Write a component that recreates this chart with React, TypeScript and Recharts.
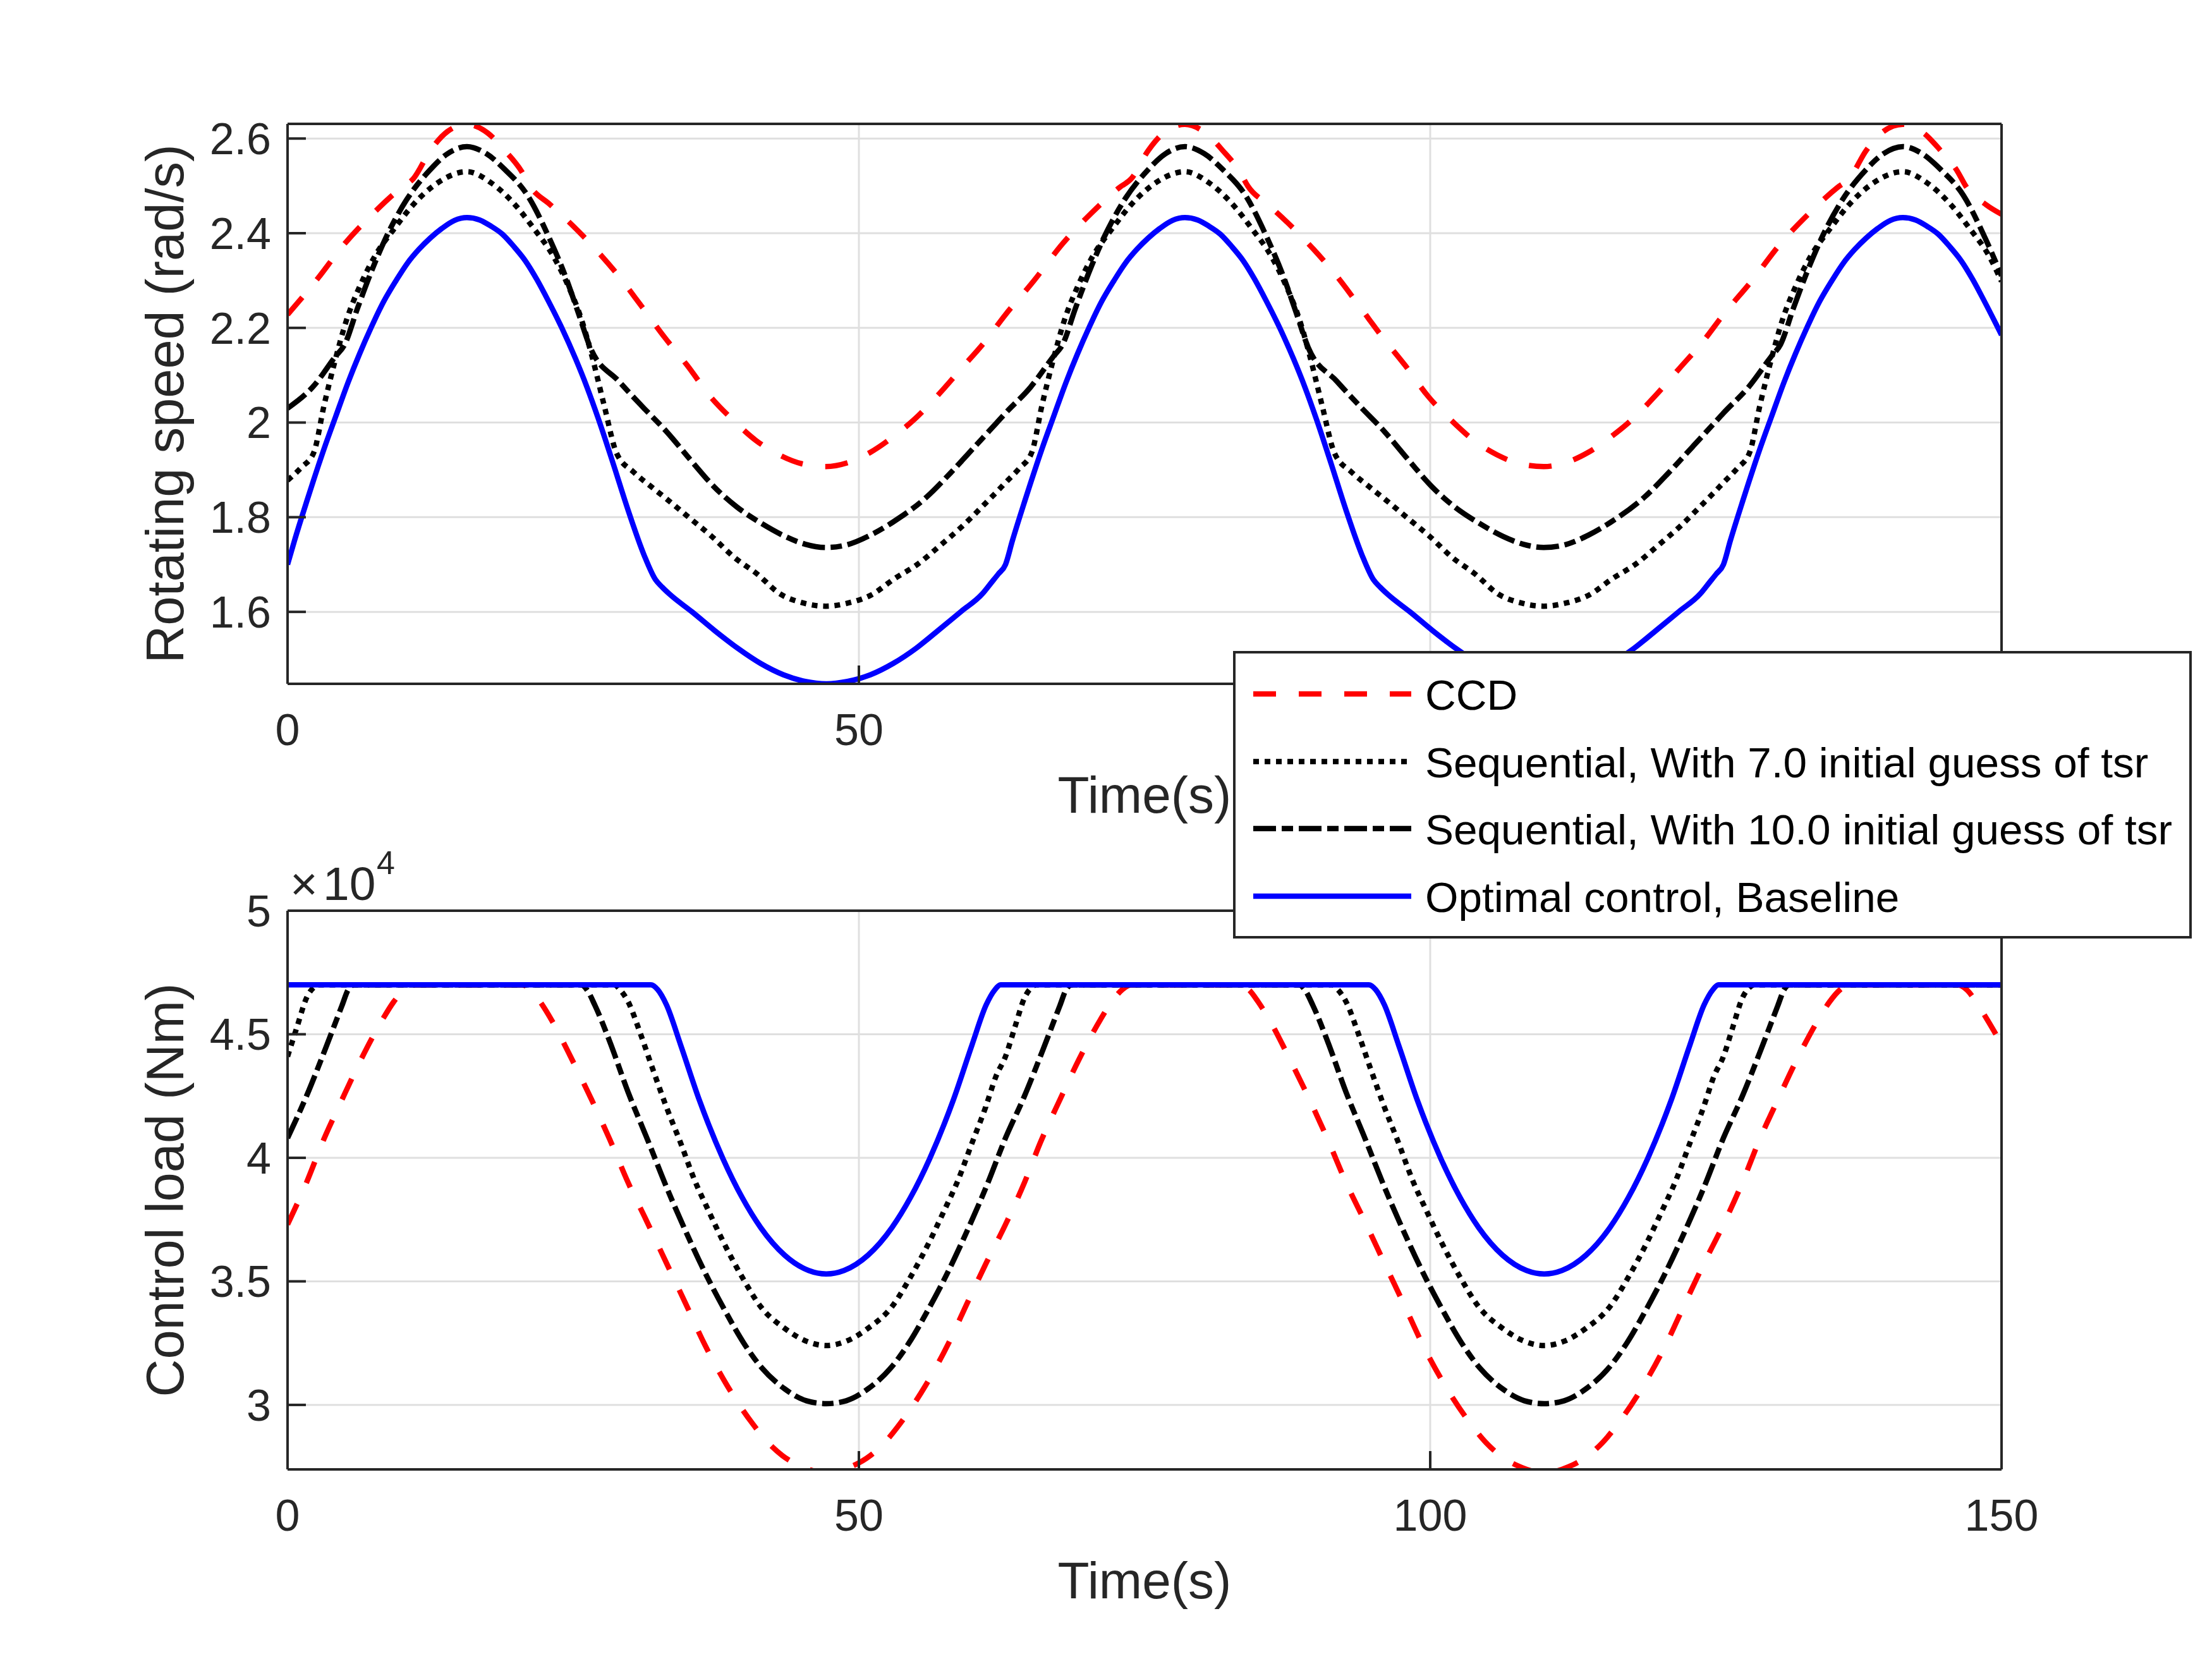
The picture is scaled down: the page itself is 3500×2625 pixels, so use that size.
import React from 'react';
import { LineChart, Line, XAxis, YAxis, CartesianGrid, Legend, Label } from 'recharts';

// ---------- axis ticks / domains ----------
const timeTicks = [0, 50, 100, 150];
const speedTicks = [1.6, 1.8, 2.0, 2.2, 2.4, 2.6];
const loadTicks = [3, 3.5, 4, 4.5, 5];
const speedDomain = [1.448, 2.631];
const loadDomain = [2.739, 5];

const seriesNames = [
  'CCD',
  'Sequential, With 7.0 initial guess of tsr',
  'Sequential, With 10.0 initial guess of tsr',
  'Optimal control, Baseline',
];

// ---------- Rotating speed (rad/s) : [time, value] ----------
const ccdSpeed = [
  [0, 2.228], [2.5, 2.3], [5, 2.378], [7.5, 2.442], [10, 2.497], [11, 2.515], [12.5, 2.575], [14, 2.615], [15.7, 2.63], [17.5, 2.612], [19, 2.575], [20.5, 2.53], [21.2, 2.5], [23, 2.46], [25, 2.415], [27, 2.365], [29, 2.309], [31, 2.245], [33, 2.18], [35, 2.12], [37, 2.055], [39, 2.005], [41, 1.962], [43, 1.932], [45, 1.913], [47.1, 1.907], [49, 1.915], [51, 1.937], [53, 1.97], [55, 2.01], [57, 2.06], [59, 2.115], [61, 2.17],
  [62.83, 2.228], [65.33, 2.3], [67.83, 2.378], [70.33, 2.442], [72.83, 2.497], [73.83, 2.515], [75.33, 2.575], [76.83, 2.615], [78.53, 2.63], [80.33, 2.612], [81.83, 2.575], [83.33, 2.53], [84.03, 2.5], [85.83, 2.46], [87.83, 2.415], [89.83, 2.365], [91.83, 2.309], [93.83, 2.245], [95.83, 2.18], [97.83, 2.12], [99.83, 2.055], [101.83, 2.005], [103.83, 1.962], [105.83, 1.932], [107.83, 1.913], [109.93, 1.907], [111.83, 1.915], [113.83, 1.937], [115.83, 1.97], [117.83, 2.01], [119.83, 2.06], [121.83, 2.115], [123.83, 2.17],
  [125.66, 2.228], [128.16, 2.3], [130.66, 2.378], [133.16, 2.442], [135.66, 2.497], [136.66, 2.515], [138.16, 2.575], [139.66, 2.615], [141.36, 2.63], [143.16, 2.612], [144.66, 2.575], [146.16, 2.53], [146.86, 2.5], [148.66, 2.46], [150, 2.44],
];

const s7Speed = [
  [0, 1.878], [1.2, 1.905], [2.3, 1.937], [3.2, 2.037], [4.15, 2.13], [5.14, 2.215], [6.4, 2.292], [7.63, 2.351], [9.35, 2.41], [11.06, 2.462], [13.05, 2.505], [15.7, 2.53], [17.9, 2.505], [19.84, 2.462], [21.55, 2.41], [23.27, 2.351], [24.5, 2.292], [25.76, 2.215], [26.75, 2.13], [27.7, 2.037], [28.8, 1.935], [30.3, 1.895], [31.8, 1.865], [33.1, 1.84], [35.1, 1.8], [37.1, 1.76], [39.1, 1.715], [41.1, 1.68], [43.1, 1.638], [45.1, 1.619], [47.1, 1.612], [49.1, 1.619], [51.1, 1.636], [53.1, 1.67], [55.1, 1.7], [57.1, 1.74], [59.1, 1.782], [61.1, 1.83], [62, 1.852],
  [62.83, 1.873], [64.03, 1.903], [65.13, 1.937], [66.03, 2.037], [66.98, 2.13], [67.97, 2.215], [69.23, 2.292], [70.46, 2.351], [72.18, 2.41], [73.89, 2.462], [75.88, 2.505], [78.53, 2.53], [80.73, 2.505], [82.67, 2.462], [84.38, 2.41], [86.1, 2.351], [87.33, 2.292], [88.59, 2.215], [89.58, 2.13], [90.53, 2.037], [91.63, 1.935], [93.13, 1.895], [94.63, 1.865], [95.93, 1.84], [97.93, 1.8], [99.93, 1.76], [101.93, 1.715], [103.93, 1.68], [105.93, 1.638], [107.93, 1.619], [109.93, 1.612], [111.93, 1.619], [113.93, 1.636], [115.93, 1.67], [117.93, 1.7], [119.93, 1.74], [121.93, 1.782], [123.93, 1.83], [124.83, 1.852],
  [125.66, 1.873], [126.86, 1.903], [127.96, 1.937], [128.86, 2.037], [129.81, 2.13], [130.8, 2.215], [132.06, 2.292], [133.29, 2.351], [135.01, 2.41], [136.72, 2.462], [138.71, 2.505], [141.36, 2.53], [143.56, 2.505], [145.5, 2.462], [147.21, 2.41], [148.93, 2.351], [150, 2.298],
];

const s10Speed = [
  [0, 2.03], [2.2, 2.075], [4.2, 2.14], [5, 2.165], [6.1, 2.24], [7.3, 2.317], [8.5, 2.385], [10.4, 2.47], [12.4, 2.532], [14, 2.568], [15.7, 2.583], [17.4, 2.568], [19, 2.535], [21, 2.48], [22.9, 2.39], [24.3, 2.31], [25.4, 2.235], [26.5, 2.158], [29, 2.087], [31, 2.035], [33.2, 1.98], [35.3, 1.92], [37.3, 1.865], [39.3, 1.822], [41.4, 1.788], [43.5, 1.76], [45.3, 1.743], [47.1, 1.736], [49, 1.742], [51, 1.762], [53, 1.79], [55.9, 1.842], [58, 1.893], [60.1, 1.948], [62, 1.998],
  [62.83, 2.02], [65.03, 2.075], [67.03, 2.14], [67.83, 2.165], [68.93, 2.24], [70.13, 2.317], [71.33, 2.385], [73.23, 2.47], [75.23, 2.532], [76.83, 2.568], [78.53, 2.583], [80.23, 2.568], [81.83, 2.535], [83.83, 2.48], [85.73, 2.39], [87.13, 2.31], [88.23, 2.235], [89.33, 2.158], [91.83, 2.087], [93.83, 2.035], [96.03, 1.98], [98.13, 1.92], [100.13, 1.865], [102.13, 1.822], [104.23, 1.788], [106.33, 1.76], [108.13, 1.743], [109.93, 1.736], [111.83, 1.742], [113.83, 1.762], [115.83, 1.79], [118.73, 1.842], [120.83, 1.893], [122.93, 1.948], [124.83, 1.998],
  [125.66, 2.02], [127.86, 2.075], [129.86, 2.14], [130.66, 2.165], [131.76, 2.24], [132.96, 2.317], [134.16, 2.385], [136.06, 2.47], [138.06, 2.532], [139.66, 2.568], [141.36, 2.583], [143.06, 2.568], [144.66, 2.535], [146.66, 2.48], [148.56, 2.39], [150, 2.31],
];

const optSpeed = [
  [0, 1.7], [0.6, 1.75], [1.7, 1.835], [3.2, 1.945], [4.2, 2.012], [5.3, 2.085], [6.3, 2.145], [7.3, 2.2], [8.4, 2.255], [9.5, 2.3], [10.5, 2.337], [11.5, 2.366], [12.5, 2.39], [13.5, 2.41], [14.6, 2.427], [15.7, 2.433], [16.8, 2.428], [17.8, 2.415], [18.8, 2.398], [19.8, 2.372], [20.8, 2.342], [21.8, 2.303], [22.8, 2.258], [24, 2.2], [25.2, 2.135], [26.2, 2.075], [27.2, 2.008], [28.5, 1.913], [29.8, 1.815], [31.2, 1.72], [32.2, 1.668], [32.8, 1.652], [33.5, 1.636], [35.4, 1.6], [37.4, 1.56], [39.4, 1.523], [41.4, 1.491], [43.4, 1.467], [45.3, 1.453], [47.15, 1.448], [49, 1.453], [51, 1.467], [53, 1.491], [55, 1.523], [56.9, 1.56], [58.9, 1.6], [60.8, 1.638], [61.6, 1.662], [62.2, 1.68],
  [62.83, 1.7], [63.43, 1.75], [64.53, 1.835], [66.03, 1.945], [67.03, 2.012], [68.13, 2.085], [69.13, 2.145], [70.13, 2.2], [71.23, 2.255], [72.33, 2.3], [73.33, 2.337], [74.33, 2.366], [75.33, 2.39], [76.33, 2.41], [77.43, 2.427], [78.53, 2.433], [79.63, 2.428], [80.63, 2.415], [81.63, 2.398], [82.63, 2.372], [83.63, 2.342], [84.63, 2.303], [85.63, 2.258], [86.83, 2.2], [88.03, 2.135], [89.03, 2.075], [90.03, 2.008], [91.33, 1.913], [92.63, 1.815], [94.03, 1.72], [95.03, 1.668], [95.63, 1.652], [96.33, 1.636], [98.23, 1.6], [100.23, 1.56], [102.23, 1.523], [104.23, 1.491], [106.23, 1.467], [108.13, 1.453], [109.98, 1.448], [111.83, 1.453], [113.83, 1.467], [115.83, 1.491], [117.83, 1.523], [119.73, 1.56], [121.73, 1.6], [123.63, 1.638], [124.43, 1.662], [125.03, 1.68],
  [125.66, 1.7], [126.26, 1.75], [127.36, 1.835], [128.86, 1.945], [129.86, 2.012], [130.96, 2.085], [131.96, 2.145], [132.96, 2.2], [134.06, 2.255], [135.16, 2.3], [136.16, 2.337], [137.16, 2.366], [138.16, 2.39], [139.16, 2.41], [140.26, 2.427], [141.36, 2.433], [142.46, 2.428], [143.46, 2.415], [144.46, 2.398], [145.46, 2.372], [146.46, 2.342], [147.46, 2.303], [148.46, 2.258], [150, 2.185],
];

// ---------- Control load (x10^4 Nm) : [time, value] ----------
const ccdLoad = [
  [0, 3.73], [1.66, 3.9], [3.1, 4.067], [4.77, 4.236], [6.42, 4.397], [8.29, 4.558], [9.3, 4.632], [10.2, 4.68], [11, 4.7], [20.5, 4.7], [21.3, 4.68], [22.1, 4.632], [23.1, 4.558], [24.9, 4.397], [26.6, 4.236], [28.2, 4.074], [29.8, 3.9], [31.5, 3.737], [33.15, 3.575], [34.8, 3.414], [36.5, 3.245], [38.5, 3.076], [40.6, 2.93], [42, 2.85], [43.3, 2.795], [45, 2.75], [47.15, 2.725], [49.3, 2.75], [51, 2.795], [52.3, 2.85], [53.7, 2.93], [55.8, 3.076], [57.8, 3.245], [59.5, 3.414], [61.15, 3.575],
  [62.83, 3.73], [64.49, 3.9], [65.93, 4.067], [67.6, 4.236], [69.25, 4.397], [71.12, 4.558], [72.13, 4.632], [73.03, 4.68], [73.83, 4.7], [83.33, 4.7], [84.13, 4.68], [84.93, 4.632], [85.93, 4.558], [87.73, 4.397], [89.43, 4.236], [91.03, 4.074], [92.63, 3.9], [94.33, 3.737], [95.98, 3.575], [97.63, 3.414], [99.33, 3.245], [101.33, 3.076], [103.43, 2.93], [104.83, 2.85], [106.13, 2.795], [107.83, 2.75], [109.98, 2.725], [112.13, 2.75], [113.83, 2.795], [115.13, 2.85], [116.53, 2.93], [118.63, 3.076], [120.63, 3.245], [122.33, 3.414], [123.98, 3.575],
  [125.66, 3.73], [127.32, 3.9], [128.76, 4.067], [130.43, 4.236], [132.08, 4.397], [133.95, 4.558], [134.96, 4.632], [135.86, 4.68], [136.66, 4.7], [146.16, 4.7], [146.96, 4.68], [147.76, 4.632], [148.76, 4.558], [150, 4.46],
];

const s7Load = [
  [0, 4.41], [0.83, 4.53], [1.66, 4.647], [2.3, 4.69], [2.7, 4.7], [28.6, 4.7], [29.1, 4.68], [29.8, 4.632], [30.9, 4.5], [31.9, 4.367], [33.15, 4.206], [34.4, 4.06], [35.6, 3.912], [36.9, 3.78], [38.1, 3.663], [39.8, 3.516], [41.4, 3.398], [43.5, 3.31], [45.4, 3.258], [47.15, 3.24], [48.9, 3.258], [50.8, 3.31], [52.9, 3.398], [54.5, 3.516], [56.2, 3.663], [57.4, 3.78], [58.7, 3.912], [59.9, 4.06], [61.1, 4.206], [62, 4.33],
  [62.83, 4.41], [63.66, 4.53], [64.49, 4.647], [65.13, 4.69], [65.53, 4.7], [91.43, 4.7], [91.93, 4.68], [92.63, 4.632], [93.73, 4.5], [94.73, 4.367], [95.98, 4.206], [97.23, 4.06], [98.43, 3.912], [99.73, 3.78], [100.93, 3.663], [102.63, 3.516], [104.23, 3.398], [106.33, 3.31], [108.23, 3.258], [109.98, 3.24], [111.73, 3.258], [113.63, 3.31], [115.73, 3.398], [117.33, 3.516], [119.03, 3.663], [120.23, 3.78], [121.53, 3.912], [122.73, 4.06], [123.93, 4.206], [124.83, 4.33],
  [125.66, 4.41], [126.49, 4.53], [127.32, 4.647], [127.96, 4.69], [128.36, 4.7], [150, 4.7],
];

const s10Load = [
  [0, 4.08], [1.66, 4.25], [3.3, 4.44], [4.77, 4.617], [5.3, 4.68], [5.8, 4.7], [25.7, 4.7], [26.2, 4.68], [26.9, 4.617], [28.2, 4.47], [29.8, 4.266], [31.5, 4.074], [33.15, 3.883], [34.8, 3.707], [36.7, 3.52], [38.3, 3.38], [39.9, 3.252], [41.5, 3.15], [43.5, 3.065], [45.4, 3.017], [47.15, 3.005], [48.9, 3.017], [50.8, 3.065], [52.8, 3.15], [54.4, 3.252], [56, 3.38], [57.6, 3.52], [59.5, 3.707], [61.15, 3.883],
  [62.83, 4.08], [64.49, 4.25], [66.13, 4.44], [67.6, 4.617], [68.13, 4.68], [68.63, 4.7], [88.53, 4.7], [89.03, 4.68], [89.73, 4.617], [91.03, 4.47], [92.63, 4.266], [94.33, 4.074], [95.98, 3.883], [97.63, 3.707], [99.53, 3.52], [101.13, 3.38], [102.73, 3.252], [104.33, 3.15], [106.33, 3.065], [108.23, 3.017], [109.98, 3.005], [111.73, 3.017], [113.63, 3.065], [115.63, 3.15], [117.23, 3.252], [118.83, 3.38], [120.43, 3.52], [122.33, 3.707], [123.98, 3.883],
  [125.66, 4.08], [127.32, 4.25], [128.96, 4.44], [130.43, 4.617], [130.96, 4.68], [131.46, 4.7], [150, 4.7],
];

const optLoad = [
  [0, 4.7], [31.8, 4.7], [32.4, 4.68], [33.15, 4.62], [34.4, 4.457], [36.05, 4.232], [38.1, 3.997], [39.8, 3.838], [41.4, 3.718], [43.5, 3.606], [45.6, 3.544], [47.15, 3.53], [48.7, 3.544], [50.8, 3.606], [52.9, 3.718], [54.5, 3.838], [56.2, 3.997], [58.25, 4.232], [59.9, 4.457], [61.15, 4.62], [61.9, 4.68], [62.4, 4.7],
  [94.63, 4.7], [95.23, 4.68], [95.98, 4.62], [97.23, 4.457], [98.88, 4.232], [100.93, 3.997], [102.63, 3.838], [104.23, 3.718], [106.33, 3.606], [108.43, 3.544], [109.98, 3.53], [111.53, 3.544], [113.63, 3.606], [115.73, 3.718], [117.33, 3.838], [119.03, 3.997], [121.08, 4.232], [122.73, 4.457], [123.98, 4.62], [124.73, 4.68], [125.23, 4.7], [150, 4.7],
];

// ---------- styles ----------
const FONT = '"Liberation Sans", Arial, Helvetica, sans-serif';
const AXIS = '#262626';
const GRID = '#dfdfdf';
const LW = 8.5;
const seriesStyle = [
  { color: '#ff0000', dash: '36 36' },
  { color: '#000000', dash: '9 9' },
  { color: '#000000', dash: '36 9 18 9' },
  { color: '#0000ff', dash: undefined as string | undefined },
];

const toPts = (arr: number[][]) => arr.map(([t, v]) => ({ t, v }));

const tickStyle = { fill: AXIS, fontSize: 70, fontFamily: FONT };
const axisLineStyle = { stroke: AXIS, strokeWidth: 4 };

function LegendBox() {
  const rows = [68, 175, 281, 388];
  return (
    <svg width={1517} height={455} style={{ display: 'block' }}>
      <rect x={2} y={2} width={1513} height={451} fill="#ffffff" stroke={AXIS} strokeWidth={4} />
      {seriesNames.map((n, i) => (
        <g key={n}>
          <line x1={32} x2={282} y1={rows[i]} y2={rows[i]} stroke={seriesStyle[i].color} strokeWidth={LW} strokeDasharray={seriesStyle[i].dash} />
          <text x={304} y={rows[i] + 25} fontSize={67.5} fontFamily={FONT} fill="#000000">{n}</text>
        </g>
      ))}
    </svg>
  );
}

type PanelProps = {
  top: number;
  height: number;
  mTop: number;
  mBottom: number;
  plotTop: number;
  plotBottom: number;
  domain: number[];
  ticks: number[];
  yLabel: string;
  data: number[][][];
  hiddenTimeLabels?: number[];
  exponent?: boolean;
  legend?: boolean;
};

function Panel(p: PanelProps) {
  const cy = (p.plotTop + p.plotBottom) / 2;
  const hidden = p.hiddenTimeLabels || [];
  return (
    <div style={{ position: 'absolute', left: 0, top: p.top, width: 3500, height: p.height }}>
      <LineChart width={3500} height={p.height} margin={{ top: p.mTop, right: 323, bottom: p.mBottom, left: 255 }}>
        <CartesianGrid stroke={GRID} strokeWidth={3} />
        <XAxis
          dataKey="t"
          type="number"
          domain={[0, 150]}
          ticks={timeTicks}
          interval={0}
          allowDataOverflow
          height={150}
          axisLine={axisLineStyle}
          tickLine={axisLineStyle}
          tickSize={-29}
          tickMargin={76}
          tick={tickStyle}
          tickFormatter={(v: number) => (hidden.includes(v) ? '' : String(v))}
        >
          <Label
            content={() => (
              <text x={1811} y={p.plotBottom + 204} textAnchor="middle" fontSize={82} fontFamily={FONT} fill={AXIS}>
                Time(s)
              </text>
            )}
          />
        </XAxis>
        <XAxis
          xAxisId="top"
          orientation="top"
          dataKey="t"
          type="number"
          domain={[0, 150]}
          ticks={timeTicks}
          interval={0}
          allowDataOverflow
          height={10}
          axisLine={axisLineStyle}
          tickLine={axisLineStyle}
          tickSize={-29}
          tick={false}
        >
          {p.exponent ? (
            <Label
              content={() => (
                <g fontFamily={FONT} fill={AXIS}>
                  <text x={459} y={p.plotTop - 17} fontSize={75}>×</text>
                  <text x={511} y={p.plotTop - 17} fontSize={75}>10</text>
                  <text x={596} y={p.plotTop - 58} fontSize={52}>4</text>
                </g>
              )}
            />
          ) : null}
        </XAxis>
        <YAxis
          type="number"
          domain={p.domain}
          ticks={p.ticks}
          interval={0}
          allowDataOverflow
          width={200}
          axisLine={axisLineStyle}
          tickLine={axisLineStyle}
          tickSize={-29}
          tickMargin={55}
          tick={tickStyle}
        >
          <Label
            content={() => (
              <text
                x={290}
                y={cy}
                transform={`rotate(-90, 290, ${cy})`}
                textAnchor="middle"
                fontSize={83}
                fontFamily={FONT}
                fill={AXIS}
              >
                {p.yLabel}
              </text>
            )}
          />
        </YAxis>
        <YAxis
          yAxisId="right"
          orientation="right"
          type="number"
          domain={p.domain}
          ticks={p.ticks}
          interval={0}
          allowDataOverflow
          width={10}
          axisLine={axisLineStyle}
          tickLine={axisLineStyle}
          tickSize={-29}
          tick={false}
        />
        {p.data.map((d, i) => (
          <Line
            key={seriesNames[i]}
            data={toPts(d)}
            dataKey="v"
            name={seriesNames[i]}
            type="monotone"
            stroke={seriesStyle[i].color}
            strokeWidth={LW}
            strokeDasharray={seriesStyle[i].dash}
            dot={false}
            activeDot={false}
            isAnimationActive={false}
          />
        ))}
        {p.legend ? (
          <Legend
            layout="horizontal"
            verticalAlign="middle"
            align="center"
            content={() => <LegendBox />}
            wrapperStyle={{ position: 'absolute', left: 1951, top: 1030 - p.top, width: 1517, height: 455, zIndex: 10 }}
          />
        ) : null}
      </LineChart>
    </div>
  );
}

export default function App() {
  return (
    <div style={{ position: 'absolute', left: 0, top: 0, width: 3500, height: 2625, background: '#ffffff', overflow: 'hidden' }}>
      <Panel
        top={0}
        height={1320}
        mTop={186}
        mBottom={88}
        plotTop={196}
        plotBottom={1082}
        domain={speedDomain}
        ticks={speedTicks}
        yLabel="Rotating speed (rad/s)"
        data={[ccdSpeed, s7Speed, s10Speed, optSpeed]}
        hiddenTimeLabels={[100, 150]}
      />
      <Panel
        top={1320}
        height={1305}
        mTop={111}
        mBottom={150}
        plotTop={121}
        plotBottom={1005}
        domain={loadDomain}
        ticks={loadTicks}
        yLabel="Control load (Nm)"
        data={[ccdLoad, s7Load, s10Load, optLoad]}
        exponent
        legend
      />
    </div>
  );
}
